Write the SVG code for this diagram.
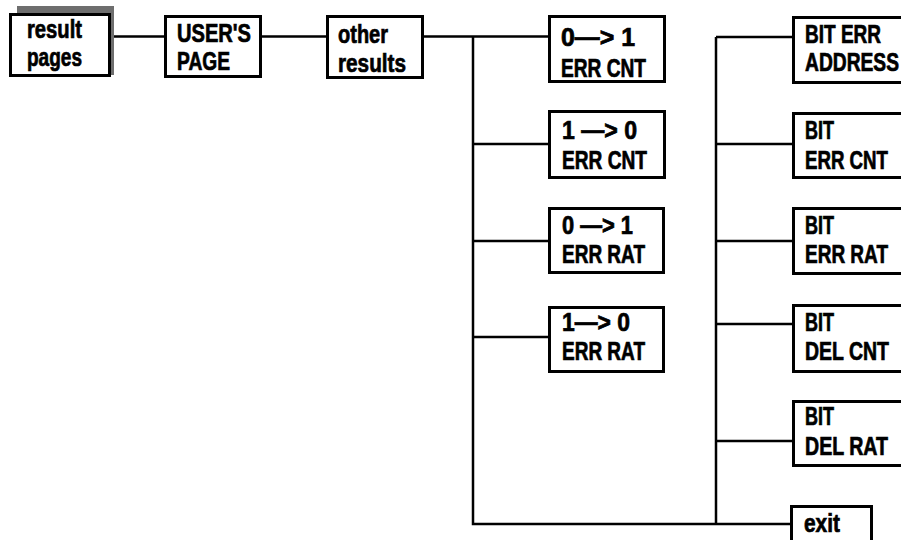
<svg xmlns="http://www.w3.org/2000/svg" width="901" height="540" viewBox="0 0 901 540">
<style>
.box{fill:#fff;stroke:#000;stroke-width:3}
.edge{fill:none;stroke:#000;stroke-width:3}
.shadow{fill:#6e6e6e}
.lbl{font-family:"Liberation Sans",Arial,sans-serif;font-weight:bold;font-size:25px;fill:#000;stroke:#000;stroke-width:0.7}
.wire{fill:none;stroke:#000;stroke-width:2.5}
</style>
<rect width="901" height="540" fill="#fff"/>
<g id="connectors">
<path class="wire" d="M111 36.5H164M262 36.5H326M424 36.5H548M473 36.5V524H790M473 144H548M473 241H548M473 337H548M716 37V524M716 37H792M716 144H792M716 241H792M716 324H792M716 441H792"/>
</g>
<g id="result-pages">
<rect class="shadow" x="17" y="6" width="97" height="69"/>
<rect class="box" x="10.5" y="14.5" width="99" height="61"/>
<text class="lbl" x="27" y="38" textLength="55" lengthAdjust="spacingAndGlyphs">result</text>
<text class="lbl" x="27" y="66" textLength="55" lengthAdjust="spacingAndGlyphs">pages</text>
</g>
<g id="users-page">
<rect class="box" x="165.5" y="16.5" width="95" height="60"/>
<text class="lbl" x="177" y="42" textLength="74" lengthAdjust="spacingAndGlyphs">USER'S</text>
<text class="lbl" x="177" y="70" textLength="53" lengthAdjust="spacingAndGlyphs">PAGE</text>
</g>
<g id="other-results">
<rect class="box" x="327.5" y="16.5" width="95" height="61"/>
<text class="lbl" x="338" y="43" textLength="50" lengthAdjust="spacingAndGlyphs">other</text>
<text class="lbl" x="338" y="72" textLength="68" lengthAdjust="spacingAndGlyphs">results</text>
</g>
<g id="err-cnt-01">
<rect class="box" x="549.5" y="16.5" width="115" height="65"/>
<text class="lbl" x="561" y="46" textLength="74" lengthAdjust="spacingAndGlyphs">0—&gt; 1</text>
<text class="lbl" x="561" y="77" textLength="85" lengthAdjust="spacingAndGlyphs">ERR CNT</text>
</g>
<g id="err-cnt-10">
<rect class="box" x="549.5" y="111.5" width="115" height="66"/>
<text class="lbl" x="562" y="139" textLength="75" lengthAdjust="spacingAndGlyphs">1 —&gt; 0</text>
<text class="lbl" x="562" y="169" textLength="85" lengthAdjust="spacingAndGlyphs">ERR CNT</text>
</g>
<g id="err-rat-01">
<rect class="box" x="549.5" y="208.5" width="114" height="64"/>
<text class="lbl" x="562" y="234" textLength="71" lengthAdjust="spacingAndGlyphs">0 —&gt; 1</text>
<text class="lbl" x="562" y="263" textLength="83" lengthAdjust="spacingAndGlyphs">ERR RAT</text>
</g>
<g id="err-rat-10">
<rect class="box" x="549.5" y="307.5" width="114" height="64"/>
<text class="lbl" x="562" y="331" textLength="68" lengthAdjust="spacingAndGlyphs">1—&gt; 0</text>
<text class="lbl" x="562" y="360" textLength="83" lengthAdjust="spacingAndGlyphs">ERR RAT</text>
</g>
<g id="bit-err-address">
<path class="edge" d="M901 17.5H793.5V82.5H901"/>
<text class="lbl" x="805" y="43" textLength="76" lengthAdjust="spacingAndGlyphs">BIT ERR</text>
<text class="lbl" x="805" y="71" textLength="94" lengthAdjust="spacingAndGlyphs">ADDRESS</text>
</g>
<g id="bit-err-cnt">
<path class="edge" d="M901 113.5H793.5V177.5H901"/>
<text class="lbl" x="805" y="139" textLength="29" lengthAdjust="spacingAndGlyphs">BIT</text>
<text class="lbl" x="805" y="169" textLength="83" lengthAdjust="spacingAndGlyphs">ERR CNT</text>
</g>
<g id="bit-err-rat">
<path class="edge" d="M901 208.5H793.5V273.5H901"/>
<text class="lbl" x="805" y="234" textLength="29" lengthAdjust="spacingAndGlyphs">BIT</text>
<text class="lbl" x="805" y="263" textLength="83" lengthAdjust="spacingAndGlyphs">ERR RAT</text>
</g>
<g id="bit-del-cnt">
<path class="edge" d="M901 305.5H793.5V371.5H901"/>
<text class="lbl" x="805" y="331" textLength="29" lengthAdjust="spacingAndGlyphs">BIT</text>
<text class="lbl" x="805" y="360" textLength="84" lengthAdjust="spacingAndGlyphs">DEL CNT</text>
</g>
<g id="bit-del-rat">
<path class="edge" d="M901 401.5H793.5V465.5H901"/>
<text class="lbl" x="805" y="425" textLength="29" lengthAdjust="spacingAndGlyphs">BIT</text>
<text class="lbl" x="805" y="455" textLength="83" lengthAdjust="spacingAndGlyphs">DEL RAT</text>
</g>
<g id="exit">
<path class="edge" d="M791.5 540V506.5H871.5V540"/>
<text class="lbl" x="804" y="532" textLength="36" lengthAdjust="spacingAndGlyphs">exit</text>
</g>
</svg>
